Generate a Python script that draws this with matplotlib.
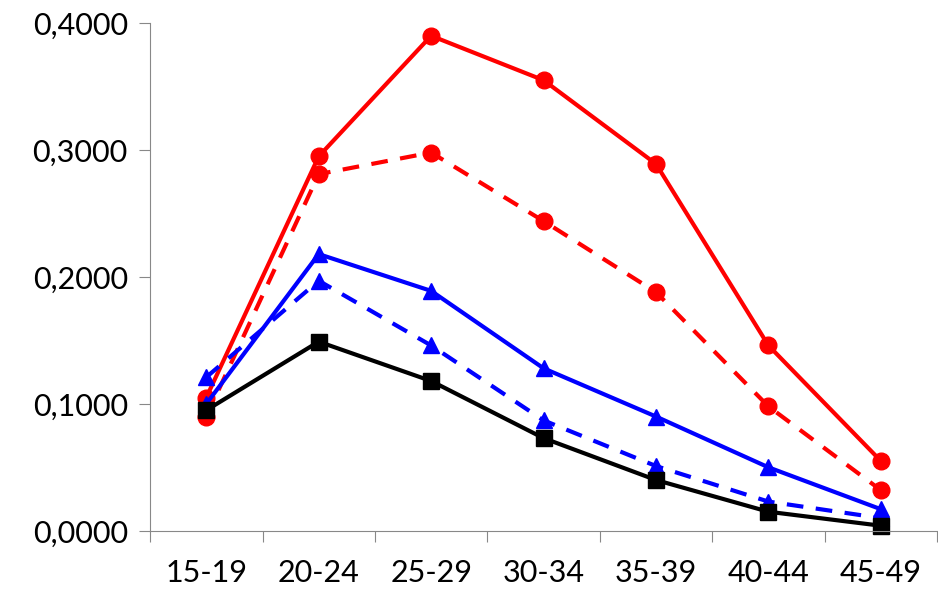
import matplotlib.pyplot as plt
from matplotlib.ticker import FuncFormatter

plt.rcParams['font.family'] = ['Lato', 'DejaVu Sans']

groups = ['15-19', '20-24', '25-29', '30-34', '35-39', '40-44', '45-49']
red_solid = [0.105, 0.295, 0.390, 0.355, 0.289, 0.146, 0.055]
red_dash = [0.090, 0.281, 0.298, 0.244, 0.188, 0.098, 0.032]
blue_solid = [0.100, 0.218, 0.189, 0.128, 0.090, 0.050, 0.017]
blue_dash = [0.121, 0.197, 0.146, 0.087, 0.051, 0.023, 0.010]
black = [0.095, 0.149, 0.118, 0.073, 0.040, 0.015, 0.004]

fig = plt.figure(figsize=(9.38, 6.08), dpi=100)
ax = fig.add_axes([0.16, 0.127, 0.839, 0.835])
x = range(len(groups))

ax.plot(x, red_solid, color='#ff0000', lw=3, marker='o', ms=12)
ax.plot(x, red_dash, color='#ff0000', lw=3, ls=(0, (4, 3)), marker='o', ms=12)
ax.plot(x, blue_solid, color='#0000ff', lw=3, marker='^', ms=12)
ax.plot(x, blue_dash, color='#0000ff', lw=3, ls=(0, (4, 3)), marker='^', ms=12)
ax.plot(x, black, color='black', lw=3, marker='s', ms=12)

ax.set_xlim(-0.5, 6.5)
ax.set_ylim(0, 0.4)
ax.set_yticks([0, 0.1, 0.2, 0.3, 0.4])
ax.yaxis.set_major_formatter(FuncFormatter(lambda v, p: f'{v:.4f}'.replace('.', ',')))
ax.set_xticks([i - 0.5 for i in range(8)], minor=False)
ax.set_xticklabels([])
ax.set_xticks(list(x), minor=True)
ax.set_xticklabels(groups, minor=True)
ax.tick_params(axis='x', which='minor', length=0, pad=20, labelsize=22)
ax.tick_params(axis='x', which='major', length=8, color='#888888')
ax.tick_params(axis='y', length=8, labelsize=22, color='#888888', pad=8)
for s in ['top', 'right']:
    ax.spines[s].set_visible(False)
for s in ['left', 'bottom']:
    ax.spines[s].set_color('#888888')
for line in ax.lines:
    line.set_clip_on(False)

fig.savefig('out.png', dpi=100)
